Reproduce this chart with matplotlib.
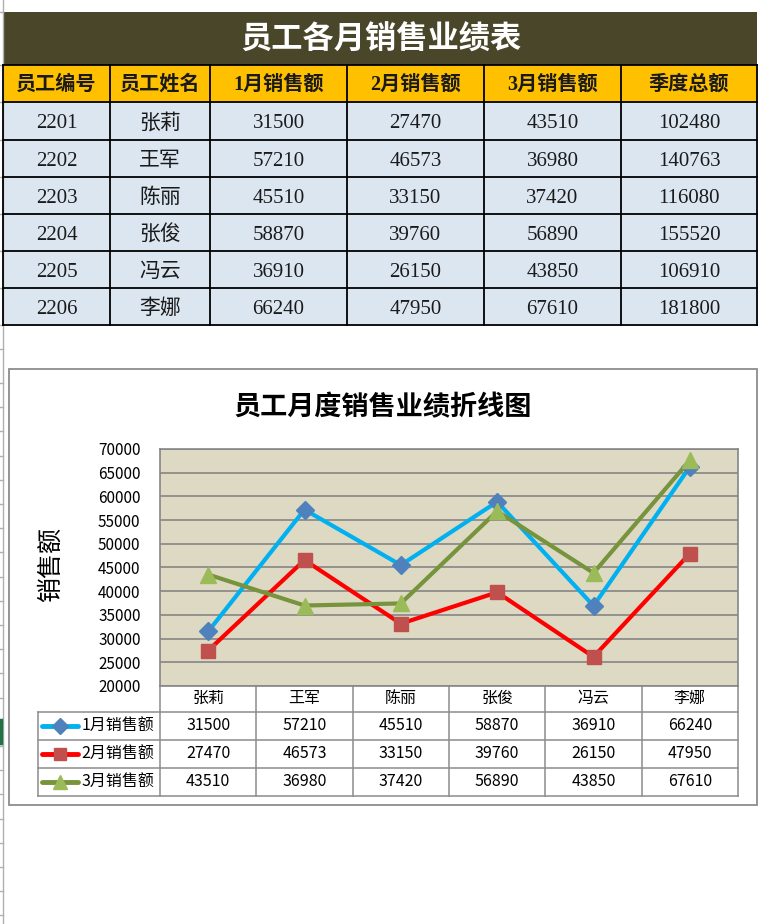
import numpy as np
import matplotlib
matplotlib.use('Agg')
import matplotlib.pyplot as plt
from matplotlib.patches import Rectangle

plt.rcParams['font.family'] = ['Noto Sans CJK SC', 'DejaVu Sans']

# data
ids = ['2201', '2202', '2203', '2204', '2205', '2206']
names = ['张莉', '王军', '陈丽', '张俊', '冯云', '李娜']
jan = [31500, 57210, 45510, 58870, 36910, 66240]
feb = [27470, 46573, 33150, 39760, 26150, 47950]
mar = [43510, 36980, 37420, 56890, 43850, 67610]
headers = ['员工编号', '员工姓名', '1月销售额', '2月销售额', '3月销售额', '季度总额']
series_names = ['1月销售额', '2月销售额', '3月销售额']
yticks = list(range(20000, 70001, 5000))

W, H = 772, 924
fig = plt.figure(figsize=(W / 100, H / 100), dpi=100)
bg = fig.add_axes([0, 0, 1, 1])
bg.set_xlim(0, W)
bg.set_ylim(H, 0)
bg.axis('off')

serif = ['Liberation Serif', 'Noto Sans CJK SC']

# excel row header strip on the left
bg.plot([3, 3], [0, H], color='#b0b0b0', lw=1)
for yy in [12, 65, 102, 140, 177, 214, 251, 288, 325, 349] + list(np.arange(383, H, 24.2)):
    bg.plot([0, 3], [yy, yy], color='#b0b0b0', lw=1)
bg.plot([1, 1], [720, 743], color='#217346', lw=2.5)

# ---- top table ----
cols = [3, 110, 210, 347, 484, 621, 757]
rows = [102, 140, 177, 214, 251, 288, 325]
bg.add_patch(Rectangle((3, 12), 754, 53, facecolor='#4a4629', edgecolor='none'))
bg.text(381, 40, '员工各月销售业绩表', ha='center', va='center', color='white',
        fontsize=22.5, fontweight='bold')
bg.add_patch(Rectangle((3, 65), 754, 37, facecolor='#ffc000', edgecolor='none'))
bg.add_patch(Rectangle((3, 102), 754, 223, facecolor='#dce6f1', edgecolor='none'))
for i, h in enumerate(headers):
    bg.text((cols[i] + cols[i + 1]) / 2, 85, h, ha='center', va='center',
            fontsize=14.5, fontweight='bold', family=serif, color='#1a1a1a')
totals = [a + b + c for a, b, c in zip(jan, feb, mar)]
for r in range(len(ids)):
    vals = [ids[r], names[r], str(jan[r]), str(feb[r]), str(mar[r]), str(totals[r])]
    yc = (rows[r] + rows[r + 1]) / 2
    for i, v in enumerate(vals):
        bg.text((cols[i] + cols[i + 1]) / 2, yc + 3, v, ha='center', va='center',
                fontsize=15, family=serif, color='#1a1a1a')
for x in cols:
    bg.plot([x, x], [65, 325], color='black', lw=1.3)
for y in [65] + rows:
    bg.plot([3, 757], [y, y], color='black', lw=1.3)

# ---- chart ----
bg.add_patch(Rectangle((9, 369), 748, 436, facecolor='white', edgecolor='#8c8c8c', lw=1.3))
bg.text(383, 407, '员工月度销售业绩折线图', ha='center', va='center', fontsize=19.5,
        fontweight='bold', color='black')
bg.text(51, 564, '销售额', ha='center', va='center', rotation=90, fontsize=18,
        family=serif, color='black')

pl, pr, pt, pb = 160, 738, 449, 686
ax = fig.add_axes([pl / W, 1 - pb / H, (pr - pl) / W, (pb - pt) / H])
ax.set_facecolor('#ddd9c3')
x = np.arange(len(names))
styles = [
    (jan, '#00b0f0', 'D', '#4f81bd', 9),
    (feb, '#ff0000', 's', '#c0504d', 10),
    (mar, '#77933c', '^', '#9bbb59', 11),
]
for vals, lc, mk, mc, ms in styles:
    ax.plot(x, vals, color=lc, lw=3, marker=mk, markersize=ms,
            markerfacecolor=mc, markeredgecolor=mc, zorder=3)
ax.set_xlim(-0.5, len(names) - 0.5)
ax.set_ylim(20000, 70000)
ax.set_yticks(yticks)
ax.set_yticklabels([str(t) for t in yticks], fontsize=11, color='black')
ax.set_xticks([])
ax.tick_params(axis='y', length=0, pad=14)
ax.grid(axis='y', color='#868686', lw=1.2)
ax.set_axisbelow(True)
for s in ax.spines.values():
    s.set_color('#868686')
    s.set_linewidth(1.2)

# data table under the chart
cw = (pr - pl) / len(names)
trows = [686, 712, 740, 768, 796]
for i, n in enumerate(names):
    bg.text(pl + (i + 0.5) * cw, 698, n, ha='center', va='center', fontsize=11.5)
for r, (vals, lc, mk, mc, ms) in enumerate(styles):
    yc = (trows[r + 1] + trows[r + 2]) / 2
    bg.plot([42, 78], [yc, yc], color=lc, lw=3.5, solid_capstyle='round')
    bg.plot([60], [yc], marker=mk, markersize=ms - 1, color=mc)
    bg.text(118, yc, series_names[r], ha='center', va='center', fontsize=11.5)
    for i, v in enumerate(vals):
        bg.text(pl + (i + 0.5) * cw, yc, str(v), ha='center', va='center', fontsize=11.5)
tc = '#8c8c8c'
for k in range(len(names) + 1):
    bg.plot([pl + k * cw] * 2, [686, 796], color=tc, lw=1.1)
bg.plot([38, 38], [712, 796], color=tc, lw=1.1)
for y in trows[1:]:
    bg.plot([38, pr], [y, y], color=tc, lw=1.1)

fig.savefig('out.png', dpi=100)
